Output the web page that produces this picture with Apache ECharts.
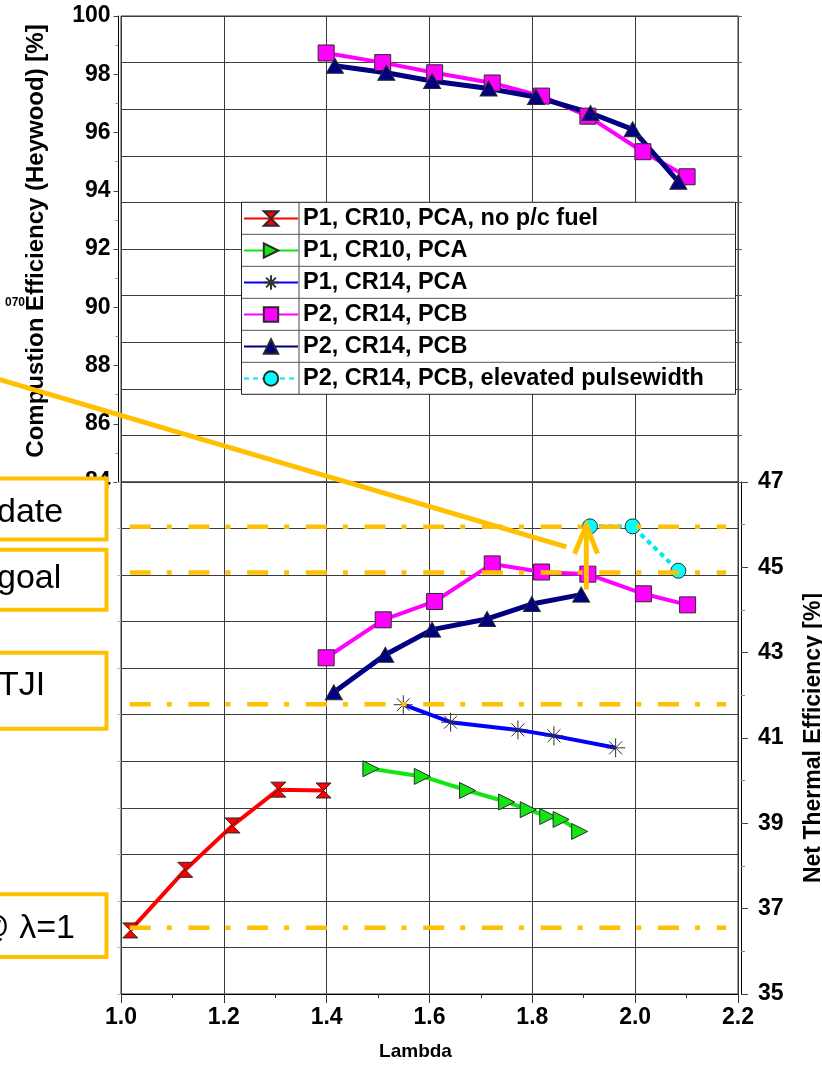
<!DOCTYPE html>
<html>
<head>
<meta charset="utf-8">
<script src="https://cdn.jsdelivr.net/npm/echarts@6/dist/echarts.min.js"></script>
<style>
  html, body { margin: 0; padding: 0; background: #fff; }
  #chart { width: 822px; height: 1067px; }
</style>
</head>
<body>
<div id="chart"></div>
<script>
// ---- Series names (legend order) ----
const seriesNames = [
  'P1, CR10, PCA, no p/c fuel',
  'P1, CR10, PCA',
  'P1, CR14, PCA',
  'P2, CR14, PCB',
  'P2, CR14, PCB ',
  'P2, CR14, PCB, elevated pulsewidth'
];

// ---- Combustion efficiency (upper panel) ----
const lambdaMagentaTop = [1.399, 1.509, 1.610, 1.722, 1.818, 1.908, 2.015, 2.101];
const combMagenta      = [98.73, 98.40, 98.05, 97.70, 97.25, 96.56, 95.34, 94.48];
const lambdaNavyTop    = [1.416, 1.516, 1.605, 1.715, 1.807, 1.913, 1.995, 2.084];
const combNavy         = [98.29, 98.05, 97.77, 97.51, 97.22, 96.67, 96.11, 94.31];

// ---- Net thermal efficiency (lower panel) ----
const lambdaRed     = [1.018, 1.125, 1.217, 1.306, 1.394];
const nteRed        = [36.49, 37.91, 38.95, 39.79, 39.77];
const lambdaGreen   = [1.486, 1.586, 1.674, 1.750, 1.792, 1.830, 1.856, 1.892];
const nteGreen      = [40.28, 40.10, 39.77, 39.50, 39.32, 39.16, 39.09, 38.81];
const lambdaBlue    = [1.549, 1.641, 1.772, 1.842, 1.962];
const nteBlue       = [41.78, 41.37, 41.19, 41.05, 40.77];
const lambdaMagenta = [1.399, 1.510, 1.610, 1.722, 1.818, 1.908, 2.016, 2.102];
const nteMagenta    = [42.88, 43.77, 44.20, 45.08, 44.89, 44.84, 44.38, 44.12];
const lambdaNavy    = [1.414, 1.514, 1.605, 1.712, 1.799, 1.895];
const nteNavy       = [42.07, 42.95, 43.54, 43.79, 44.14, 44.36];
const lambdaCyan    = [1.912, 1.995, 2.084];
const nteCyan       = [45.96, 45.96, 44.92];

// ---- Reference levels (dash-dot lines) and their lambda span ----
const refLevels = [45.95, 44.88, 41.79, 36.55];
const refSpan   = [1.017, 2.177];

// ---- Annotation arrow and pointer (lambda, efficiency) ----
const arrowShaft  = [[1.905, 44.48], [1.905, 45.98]];
const arrowHead   = [[1.882, 45.32], [1.905, 45.98], [1.927, 45.32]];
const pointerLine = [[0.764, 49.40], [1.866, 45.48]];

// ---- Axis ranges ----
const lambdaRange = [1.0, 2.2, 0.2];
const combRange   = [84, 100, 2];
const nteRange    = [35, 47, 2];

// ---- Side notes ----
const noteTexts = ['date', 'goal', 'TJI', '@ \u03bb=1'];

const FONT = '"Liberation Sans", Arial, Helvetica, sans-serif';
const ORANGE = '#FFC000';
const GRIDC = '#3c3c3c';

function pts(xs, ys) { return xs.map((x, i) => [x, ys[i]]); }

const hourglass = 'path://M0,0L10,0L5,5L10,10L0,10L5,5Z';
const asterisk = 'path://M0,5L10,5M5,0L5,10M1.6,1.6L8.4,8.4M8.4,1.6L1.6,8.4';

const chart = echarts.init(document.getElementById('chart'), null, { renderer: 'canvas' });

const xBase = {
  type: 'value', min: lambdaRange[0], max: lambdaRange[1], interval: lambdaRange[2],
  splitLine: { show: true, lineStyle: { color: GRIDC, width: 1 } }
};

function dataSeries(name, xi, yi, data, color, width, symbol, size, fill, extra) {
  return Object.assign({
    name: name, type: 'line', xAxisIndex: xi, yAxisIndex: yi, data: data,
    symbol: symbol, symbolSize: size, showSymbol: true,
    lineStyle: { color: color, width: width },
    itemStyle: { color: fill, borderColor: '#2a2a2a', borderWidth: 1 },
    emphasis: { disabled: true }, z: 3
  }, extra || {});
}

function refLine(level) {
  return {
    type: 'line', xAxisIndex: 1, yAxisIndex: 2, silent: true, symbol: 'none',
    data: [[refSpan[0], level], [refSpan[1], level]],
    lineStyle: { color: ORANGE, width: 4.5, type: [21, 16, 5, 16.7] },
    emphasis: { disabled: true }, z: 6
  };
}

function orangePath(data, w) {
  return {
    type: 'line', xAxisIndex: 1, yAxisIndex: 2, silent: true, symbol: 'none',
    data: data, lineStyle: { color: ORANGE, width: w, join: 'miter', cap: 'butt' },
    emphasis: { disabled: true }, z: 7
  };
}

const series = [
  // upper panel
  dataSeries(seriesNames[3], 0, 0, pts(lambdaMagentaTop, combMagenta), '#FF00FF', 4, 'rect', 16, '#FF00FF'),
  dataSeries(seriesNames[4], 0, 0, pts(lambdaNavyTop, combNavy), '#000080', 5, 'triangle', [17, 15], '#000080'),
  // lower panel
  dataSeries(seriesNames[0], 1, 2, pts(lambdaRed, nteRed), '#FF0000', 4, hourglass, [15, 15], '#FF0000'),
  dataSeries(seriesNames[1], 1, 2, pts(lambdaGreen, nteGreen), '#12E612', 4, 'triangle', 16, '#12E612', { symbolRotate: -90 }),
  dataSeries(seriesNames[2], 1, 2, pts(lambdaBlue, nteBlue), '#0000FF', 4, asterisk, 19, 'rgba(0,0,0,0)',
    { itemStyle: { color: 'rgba(0,0,0,0)', borderColor: '#333', borderWidth: 1 } }),
  dataSeries(seriesNames[3], 1, 2, pts(lambdaMagenta, nteMagenta), '#FF00FF', 4, 'rect', 16, '#FF00FF'),
  dataSeries(seriesNames[4], 1, 2, pts(lambdaNavy, nteNavy), '#000080', 5, 'triangle', [17, 15], '#000080'),
  dataSeries(seriesNames[5], 1, 2, pts(lambdaCyan, nteCyan), '#00E8F0', 4, 'circle', 15, '#00FFFF',
    { lineStyle: { color: '#00E8F0', width: 4, type: [5, 4] } })
];
refLevels.forEach(l => series.push(refLine(l)));
series.push(orangePath(arrowShaft, 5));
series.push(orangePath(arrowHead, 5));

// Legend table frame
const legBox = { x: 241.5, y: 202.3, w: 494, rowH: 32, rows: 6, split: 299 };
const legendGraphics = [
  { type: 'rect', z: 3, shape: { x: legBox.x, y: legBox.y, width: legBox.w, height: legBox.rowH * legBox.rows },
    style: { fill: '#fff', stroke: '#222', lineWidth: 1 } },
  { type: 'line', z: 5, shape: { x1: legBox.split, y1: legBox.y, x2: legBox.split, y2: legBox.y + legBox.rowH * legBox.rows },
    style: { stroke: '#444', lineWidth: 1 } }
];
for (let r = 1; r < legBox.rows; r++) {
  const y = legBox.y + r * legBox.rowH;
  legendGraphics.push({ type: 'line', z: 5, shape: { x1: legBox.x, y1: y, x2: legBox.x + legBox.w, y2: y },
    style: { stroke: '#555', lineWidth: 1 } });
}

// Side note boxes
const boxes = [
  { y: 478.5, h: 61, text: noteTexts[0], tx: -3, ty: 513, align: 'left' },
  { y: 549.7, h: 60, text: noteTexts[1], tx: -3, ty: 579, align: 'left' },
  { y: 652.7, h: 76, text: noteTexts[2], tx: -2, ty: 686, align: 'left' },
  { y: 894.3, h: 62.7, text: noteTexts[3], tx: 75, ty: 929, align: 'right' }
];
const boxGraphics = [];
boxes.forEach(b => {
  boxGraphics.push({ type: 'rect', z: 8, shape: { x: -10, y: b.y, width: 116.5, height: b.h },
    style: { fill: '#fff', stroke: ORANGE, lineWidth: 4 } });
  boxGraphics.push({ type: 'text', z: 9, x: b.tx, y: b.ty,
    style: { text: b.text, fontSize: 34, fontFamily: FONT, fill: '#000', align: b.align, verticalAlign: 'middle' } });
});
boxGraphics.push({ type: 'text', z: 9, x: 25, y: 303,
  style: { text: '070', fontSize: 12, fontWeight: 'bold', fontFamily: FONT, fill: '#000', align: 'right', verticalAlign: 'middle' } });

const gridCommon = { show: true, borderColor: '#333', borderWidth: 1, containLabel: false, outerBoundsMode: 'none' };

const option = {
  animation: false,
  backgroundColor: '#fff',
  grid: [
    Object.assign({ left: 121, top: 16, width: 617, height: 466 }, gridCommon),
    Object.assign({ left: 121, top: 482, width: 617, height: 512 }, gridCommon)
  ],
  xAxis: [
    Object.assign({}, xBase, {
      gridIndex: 0, axisLine: { show: false }, axisTick: { show: false }, axisLabel: { show: false }
    }),
    Object.assign({}, xBase, {
      gridIndex: 1, position: 'bottom',
      axisLine: { show: true, onZero: false, lineStyle: { color: '#000', width: 1 } },
      axisTick: { show: true, inside: false, length: 9, lineStyle: { color: '#333' } },
      minorTick: { show: true, splitNumber: 2, length: 4, lineStyle: { color: '#333' } },
      axisLabel: { show: true, margin: 12, fontSize: 23, fontWeight: 'bold', fontFamily: FONT, color: '#000',
        formatter: v => v.toFixed(1) },
      name: 'Lambda', nameLocation: 'middle', nameGap: 48,
      nameTextStyle: { fontSize: 19, fontWeight: 'bold', fontFamily: FONT, color: '#000', padding: [0, 28, 0, 0] }
    })
  ],
  yAxis: [
    {
      type: 'value', gridIndex: 0, position: 'left', offset: 2.5,
      min: combRange[0], max: combRange[1], interval: combRange[2],
      axisLine: { show: true, onZero: false, lineStyle: { color: '#000', width: 1 } },
      axisTick: { show: true, inside: false, length: 5, lineStyle: { color: '#444' } },
      minorTick: { show: true, splitNumber: 2, length: 3, lineStyle: { color: '#888' } },
      splitLine: { show: false },
      axisLabel: { show: true, margin: 8, fontSize: 23, fontWeight: 'bold', fontFamily: FONT, color: '#000' },
      name: 'Compustion Efficiency (Heywood) [%]', nameLocation: 'middle', nameGap: 70, nameRotate: 90,
      nameTextStyle: { fontSize: 24, fontWeight: 'bold', fontFamily: FONT, color: '#000', padding: [0, 0, 0, 16] }
    },
    {
      type: 'value', gridIndex: 0, position: 'right', min: 0, max: 10, interval: 1,
      axisLine: { show: true, onZero: false, lineStyle: { color: '#444' } },
      axisTick: { show: true, inside: false, length: 4, lineStyle: { color: '#666' } },
      axisLabel: { show: false },
      splitLine: { show: true, lineStyle: { color: GRIDC, width: 1 } }
    },
    {
      type: 'value', gridIndex: 1, position: 'right', offset: 3,
      min: nteRange[0], max: nteRange[1], interval: nteRange[2],
      axisLine: { show: true, onZero: false, lineStyle: { color: '#000', width: 1 } },
      axisTick: { show: true, inside: false, length: 7, lineStyle: { color: '#444' } },
      minorTick: { show: true, splitNumber: 2, length: 4, lineStyle: { color: '#888' } },
      splitLine: { show: false },
      axisLabel: { show: true, margin: 17, fontSize: 23, fontWeight: 'bold', fontFamily: FONT, color: '#000' },
      name: 'Net Thermal Efficiency [%]', nameLocation: 'middle', nameGap: 61, nameRotate: 90,
      nameTextStyle: { fontSize: 23, fontWeight: 'bold', fontFamily: FONT, color: '#000' }
    },
    {
      type: 'value', gridIndex: 1, position: 'left', min: 0, max: 11, interval: 1,
      axisLine: { show: false },
      axisTick: { show: true, inside: false, length: 4, lineStyle: { color: '#bbb' } },
      axisLabel: { show: false },
      splitLine: { show: true, lineStyle: { color: GRIDC, width: 1 } }
    }
  ],
  legend: {
    orient: 'vertical', left: 243, top: 206.5, padding: 0,
    itemWidth: 54, itemHeight: 18, itemGap: 8, selectedMode: false, z: 4,
    textStyle: { fontSize: 23.5, fontWeight: 'bold', fontFamily: FONT, color: '#000', lineHeight: 24 },
    data: seriesNames
  },
  graphic: legendGraphics.concat(boxGraphics),
  series: series
};

chart.setOption(option);

// Pointer from the side notes to the arrow: endpoints are data values in the
// lower panel, converted to pixels through that panel's axes.
const p0 = chart.convertToPixel({ xAxisIndex: 1, yAxisIndex: 2 }, pointerLine[0]);
const p1 = chart.convertToPixel({ xAxisIndex: 1, yAxisIndex: 2 }, pointerLine[1]);
chart.setOption({
  graphic: legendGraphics.concat(boxGraphics).concat([{
    type: 'line', z: 7, shape: { x1: p0[0], y1: p0[1], x2: p1[0], y2: p1[1] },
    style: { stroke: ORANGE, lineWidth: 5 }
  }])
});
</script>
</body>
</html>
